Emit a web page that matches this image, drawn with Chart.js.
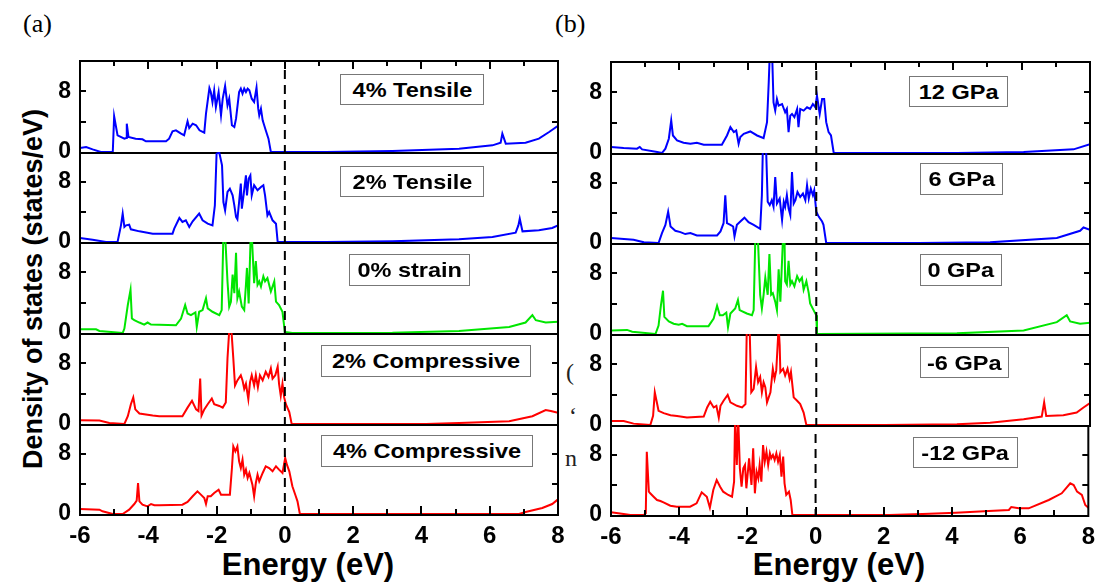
<!DOCTYPE html>
<html><head><meta charset="utf-8">
<script src="https://cdn.jsdelivr.net/npm/chart.js@4.4.0/dist/chart.umd.min.js"></script>
<style>
html,body{margin:0;padding:0;background:#fff;}
body{width:1103px;height:587px;overflow:hidden;position:relative;font-family:"Liberation Sans",Arial,sans-serif;}
canvas.c{position:absolute;left:0;top:0;}
.lab{position:absolute;font-family:"Liberation Serif","Times New Roman",serif;font-size:26px;color:#000;}
.frag{position:absolute;overflow:hidden;font-family:"Liberation Serif","Times New Roman",serif;font-size:24px;color:#222;line-height:24px;}
.box{position:absolute;box-sizing:border-box;border:1.5px solid #777;background:#fff;display:flex;align-items:center;justify-content:center;font-weight:bold;font-size:21px;color:#000;white-space:nowrap;z-index:20;}
.box span{display:inline-block;transform:scaleX(1.12);}
.ytitle{position:absolute;left:33px;top:289px;transform:translate(-50%,-50%) rotate(-90deg);font-weight:bold;font-size:27px;white-space:nowrap;color:#000;}
.xtitle{position:absolute;font-weight:bold;font-size:31px;white-space:nowrap;color:#000;transform:translate(-50%,-50%);}
</style>
</head><body>
<div class="lab" style="left:23px;top:9px;">(a)</div>
<div class="lab" style="left:555px;top:9px;">(b)</div>
<div class="frag" style="left:566px;top:360px;width:12px;height:26px;">(</div>
<div class="frag" style="left:569px;top:404px;width:8px;height:22px;">‘</div>
<div class="frag" style="left:565px;top:446px;width:12px;height:24px;">n</div>
<div class="ytitle">Density of states (states/eV)</div>
<div class="xtitle" style="left:308px;top:565px;">Energy (eV)</div>
<div class="xtitle" style="left:839px;top:565px;">Energy (eV)</div>
<script>
// ---- axis definitions ----
const energyMin = -6, energyMax = 8;
const dosMin = 0, dosMax = 12;
const xTickLabels = [-6, -4, -2, 0, 2, 4, 6, 8];
const yTickLabels = [0, 8];

// ---- panel (a): strain ----
const labelsA = ["4% Tensile", "2% Tensile", "0% strain", "2% Compressive", "4% Compressive"];
const colorsA = ["#0000ff", "#0000ff", "#00e600", "#ff0000", "#ff0000"];
// [energy (eV), DOS (states/eV)]
const a1 = [[-6.0,0.53],[-5.82,0.66],[-5.63,0.35],[-5.39,0],[-5.04,0],[-5.0,4.7],[-4.9,2.2],[-4.7,1.76],[-4.65,1.85],[-4.63,3.74],[-4.58,1.98],[-4.37,1.76],[-4.17,1.67],[-4.07,1.41],[-3.48,1.41],[-3.39,1.76],[-3.29,2.73],[-3.19,2.86],[-3.04,2.42],[-2.95,2.2],[-2.85,4.04],[-2.8,3.16],[-2.7,3.74],[-2.6,3.52],[-2.5,2.86],[-2.36,2.55],[-2.31,5.05],[-2.21,8.44],[-2.17,7.91],[-2.12,6.59],[-2.07,8.13],[-2.02,5.93],[-1.94,7.91],[-1.87,4.84],[-1.82,7.03],[-1.75,8.7],[-1.68,6.15],[-1.63,7.03],[-1.55,3.52],[-1.48,3.3],[-1.43,4.4],[-1.34,7.91],[-1.29,8.35],[-1.24,7.69],[-1.19,8.35],[-1.14,7.91],[-1.09,8.35],[-1.04,8.13],[-0.97,7.03],[-0.9,6.59],[-0.83,8.48],[-0.78,5.71],[-0.75,4.84],[-0.7,5.71],[-0.65,4.18],[-0.56,2.86],[-0.48,1.76],[-0.41,0],[1.2,0],[3.15,0.13],[5.1,0.44],[6.08,0.88],[6.32,1.23],[6.37,2.42],[6.47,1.1],[7.05,1.23],[7.44,1.76],[7.74,2.64],[8.0,3.45]];
const a2 = [[-6.0,0.53],[-5.63,0.31],[-5.24,0],[-4.9,0],[-4.8,2.22],[-4.75,3.78],[-4.7,2.0],[-4.65,2.22],[-4.56,2.31],[-4.51,1.69],[-4.26,1.42],[-3.87,1.11],[-3.29,1.11],[-3.24,1.78],[-3.09,3.2],[-3.0,2.67],[-2.9,2.89],[-2.8,2.0],[-2.7,2.76],[-2.51,3.78],[-2.41,2.89],[-2.26,2.44],[-2.12,2.22],[-2.05,4.89],[-2.0,11.78],[-1.92,11.91],[-1.84,10.22],[-1.8,5.33],[-1.75,4.22],[-1.68,6.67],[-1.61,7.11],[-1.53,6.22],[-1.48,4.89],[-1.43,3.33],[-1.39,3.02],[-1.34,5.33],[-1.29,7.78],[-1.26,4.44],[-1.21,6.22],[-1.14,8.89],[-1.11,6.22],[-1.06,8.44],[-1.01,8.89],[-0.97,6.22],[-0.9,7.56],[-0.8,6.89],[-0.7,7.33],[-0.63,7.56],[-0.58,6.22],[-0.51,3.56],[-0.46,4.0],[-0.36,2.89],[-0.26,2.44],[-0.21,0],[1.2,0],[3.15,0.09],[5.1,0.36],[6.08,0.67],[6.76,1.24],[6.84,2.22],[6.88,3.11],[6.96,1.42],[7.44,1.56],[7.83,1.87],[8.0,2.22]];
const a3 = [[-6.0,0.49],[-5.53,0.49],[-5.43,0.27],[-4.75,0],[-4.7,0.58],[-4.6,3.69],[-4.52,5.69],[-4.48,1.91],[-4.41,1.69],[-4.26,1.38],[-4.12,1.11],[-4.02,1.38],[-3.92,1.11],[-3.19,1.02],[-3.04,1.91],[-2.92,3.69],[-2.85,2.58],[-2.75,2.36],[-2.62,2.71],[-2.58,0.8],[-2.51,2.8],[-2.41,3.02],[-2.31,4.58],[-2.26,3.24],[-2.12,2.8],[-1.92,2.36],[-1.85,3.02],[-1.8,13],[-1.75,13],[-1.68,6.8],[-1.63,3.47],[-1.58,4.13],[-1.53,7.69],[-1.48,5.24],[-1.43,10.58],[-1.39,4.58],[-1.34,5.47],[-1.26,3.47],[-1.19,3.02],[-1.14,6.36],[-1.11,8.58],[-1.06,3.91],[-1.0,13],[-0.97,13],[-0.9,6.58],[-0.85,9.47],[-0.8,6.36],[-0.75,6.8],[-0.7,6.13],[-0.63,7.47],[-0.58,6.8],[-0.51,7.24],[-0.46,6.36],[-0.41,5.47],[-0.31,6.8],[-0.26,4.13],[-0.17,3.69],[-0.07,2.8],[0.0,0.13],[0.22,0],[3.15,0.04],[5.1,0.27],[6.57,0.8],[7.05,1.38],[7.25,2.36],[7.35,1.69],[7.64,1.38],[8.0,1.47]];
const a4 = [[-6.0,0.49],[-5.43,0.45],[-5.14,0.13],[-4.7,0],[-4.6,1.03],[-4.51,2.61],[-4.44,3.51],[-4.38,1.93],[-4.26,1.39],[-4.07,1.26],[-3.87,1.12],[-3.68,1.03],[-3.0,1.03],[-2.85,2.16],[-2.72,3.06],[-2.6,1.93],[-2.53,1.71],[-2.48,5.98],[-2.44,1.12],[-2.36,1.93],[-2.26,2.61],[-2.14,3.37],[-2.07,2.61],[-1.92,2.38],[-1.82,2.16],[-1.73,2.83],[-1.68,8.67],[-1.63,12.3],[-1.56,12.0],[-1.51,8.67],[-1.46,5.08],[-1.39,5.75],[-1.29,6.43],[-1.24,5.75],[-1.19,4.63],[-1.14,5.3],[-1.07,3.28],[-1.02,5.53],[-0.97,6.43],[-0.9,5.08],[-0.85,6.43],[-0.79,4.85],[-0.73,6.43],[-0.65,5.75],[-0.56,6.88],[-0.48,6.2],[-0.41,7.33],[-0.36,5.98],[-0.28,6.43],[-0.21,7.55],[-0.17,5.3],[-0.12,3.73],[-0.07,5.3],[-0.02,3.51],[0.03,2.61],[0.13,1.57],[0.2,0],[4.13,0],[5.1,0.13],[6.57,0.36],[7.25,1.03],[7.64,1.84],[7.79,1.71],[8.0,1.48]];
const a5 = [[-6.0,0.67],[-5.43,0.58],[-5.34,0.36],[-5.04,0],[-4.75,0],[-4.56,0.58],[-4.41,1.33],[-4.34,1.78],[-4.3,4.13],[-4.26,1.69],[-4.17,1.24],[-4.02,1.02],[-3.92,1.33],[-3.82,1.16],[-3.68,1.16],[-3.0,1.24],[-2.85,1.6],[-2.7,2.36],[-2.56,3.02],[-2.46,2.58],[-2.36,2.13],[-2.31,1.33],[-2.26,2.36],[-2.17,2.36],[-2.07,2.8],[-1.94,3.24],[-1.87,2.58],[-1.61,2.58],[-1.55,6.13],[-1.51,9.02],[-1.45,8.36],[-1.39,9.02],[-1.34,7.02],[-1.29,6.13],[-1.24,7.24],[-1.19,5.24],[-1.14,5.91],[-1.09,4.8],[-1.04,5.47],[-0.95,3.91],[-0.9,2.36],[-0.85,4.13],[-0.8,5.24],[-0.75,4.36],[-0.65,5.47],[-0.56,6.36],[-0.46,6.13],[-0.36,5.69],[-0.26,6.36],[-0.17,5.91],[-0.07,5.47],[0.01,7.47],[0.06,6.58],[0.13,5.69],[0.22,3.69],[0.32,2.36],[0.37,1.69],[0.44,0],[6.86,0],[7.05,0.27],[7.54,0.8],[7.83,1.33],[8.0,1.95]];

// ---- panel (b): pressure ----
const labelsB = ["12 GPa", "6 GPa", "0 GPa", "-6 GPa", "-12 GPa"];
const colorsB = ["#0000ff", "#0000ff", "#00e600", "#ff0000", "#ff0000"];
const b1 = [[-6.0,0.79],[-5.63,0.66],[-5.24,0.57],[-5.16,0.79],[-5.09,0.48],[-4.65,0.13],[-4.51,0],[-4.41,0.57],[-4.31,1.88],[-4.24,4.28],[-4.19,2.31],[-4.07,1.66],[-3.88,1.35],[-3.68,1.22],[-3.49,1.35],[-3.29,1.09],[-2.76,1.09],[-2.61,2.31],[-2.51,3.41],[-2.41,2.75],[-2.34,2.97],[-2.27,1.22],[-2.22,2.1],[-2.12,2.53],[-1.93,2.84],[-1.73,2.31],[-1.54,1.97],[-1.44,4.06],[-1.39,9.3],[-1.36,13],[-1.29,13],[-1.25,6.68],[-1.2,5.59],[-1.15,7.12],[-1.1,6.24],[-1.0,6.46],[-0.91,5.37],[-0.86,5.81],[-0.81,2.75],[-0.76,4.93],[-0.71,5.15],[-0.64,4.72],[-0.56,5.81],[-0.52,3.41],[-0.47,5.81],[-0.37,5.59],[-0.27,6.03],[-0.18,5.81],[-0.1,6.46],[-0.03,6.03],[0.02,7.55],[0.1,5.15],[0.17,7.12],[0.23,7.12],[0.29,4.06],[0.36,2.75],[0.43,2.31],[0.51,0],[4.11,0],[6.06,0.13],[7.52,0.48],[8.0,1.15]];
const b2 = [[-6.0,0.66],[-5.34,0.44],[-5.04,0.09],[-4.61,0],[-4.51,1.32],[-4.41,2.42],[-4.33,4.18],[-4.26,2.2],[-4.12,1.63],[-3.97,1.45],[-3.83,1.19],[-3.68,1.32],[-3.49,1.01],[-2.9,1.01],[-2.8,1.54],[-2.71,2.64],[-2.66,6.37],[-2.61,2.64],[-2.51,2.42],[-2.43,2.2],[-2.39,0.88],[-2.32,2.42],[-2.22,2.86],[-2.1,3.38],[-1.98,2.77],[-1.83,2.42],[-1.64,1.89],[-1.59,6.37],[-1.56,13],[-1.47,13],[-1.42,5.49],[-1.36,5.05],[-1.3,5.71],[-1.25,4.84],[-1.2,8.79],[-1.15,5.27],[-1.07,5.93],[-1.0,3.08],[-0.95,5.49],[-0.91,4.84],[-0.86,6.37],[-0.81,4.62],[-0.76,3.74],[-0.71,9.45],[-0.66,5.27],[-0.61,5.71],[-0.55,6.81],[-0.47,6.15],[-0.39,6.59],[-0.32,5.71],[-0.27,7.69],[-0.22,5.93],[-0.16,7.25],[-0.1,6.37],[-0.06,7.03],[0.0,4.18],[0.07,3.52],[0.17,2.86],[0.21,2.42],[0.29,0],[3.0,0],[5.08,0.09],[7.03,0.66],[7.71,1.63],[7.81,2.07],[8.0,1.76]];
const b3 = [[-6.0,0.45],[-5.53,0.54],[-5.38,0.31],[-4.7,0],[-4.61,1.12],[-4.54,3.82],[-4.48,5.71],[-4.44,2.25],[-4.31,1.66],[-4.17,1.35],[-4.02,1.21],[-3.92,1.35],[-3.78,1.03],[-3.15,1.03],[-3.0,2.02],[-2.9,3.73],[-2.82,2.47],[-2.73,2.47],[-2.63,2.83],[-2.58,0.9],[-2.51,2.7],[-2.37,3.37],[-2.29,4.49],[-2.24,3.15],[-2.03,2.7],[-1.88,2.47],[-1.83,3.15],[-1.78,13],[-1.71,13],[-1.64,5.17],[-1.59,3.37],[-1.54,5.17],[-1.49,7.42],[-1.42,5.17],[-1.37,10.56],[-1.32,5.17],[-1.27,5.39],[-1.2,4.27],[-1.15,3.15],[-1.1,8.54],[-1.05,4.27],[-0.97,13],[-0.93,13],[-0.91,6.97],[-0.86,6.52],[-0.81,9.66],[-0.76,6.52],[-0.71,6.97],[-0.64,6.29],[-0.56,7.64],[-0.49,6.97],[-0.42,7.42],[-0.37,5.84],[-0.29,6.97],[-0.22,5.39],[-0.18,4.04],[-0.08,3.15],[0.0,2.47],[0.02,0],[4.11,0.09],[6.06,0.45],[7.03,1.57],[7.32,2.47],[7.42,1.66],[7.71,1.35],[8.0,1.48]];
const b4 = [[-6.0,0.53],[-5.63,0.53],[-5.34,0.18],[-4.85,0],[-4.77,1.2],[-4.72,4.31],[-4.67,3.2],[-4.61,1.87],[-4.46,1.56],[-4.26,1.29],[-4.07,1.2],[-3.78,0.98],[-3.29,1.11],[-3.19,2.31],[-3.1,3.07],[-3.0,2.31],[-2.92,2.53],[-2.85,0.98],[-2.8,2.53],[-2.71,3.2],[-2.59,3.96],[-2.51,2.98],[-2.32,2.53],[-2.17,2.31],[-2.07,2.76],[-2.03,13],[-1.95,13],[-1.9,4.31],[-1.83,4.76],[-1.76,7.64],[-1.7,5.64],[-1.64,6.31],[-1.59,4.31],[-1.54,5.64],[-1.49,4.98],[-1.44,2.98],[-1.34,4.31],[-1.27,7.42],[-1.22,6.09],[-1.17,7.2],[-1.13,10.5],[-1.1,13],[-1.07,10.5],[-1.05,6.98],[-0.97,7.42],[-0.91,6.53],[-0.84,7.42],[-0.78,6.09],[-0.74,6.98],[-0.66,3.64],[-0.56,3.2],[-0.47,2.76],[-0.37,1.64],[-0.29,0],[2.0,0],[4.11,0.09],[5.08,0.31],[6.06,0.76],[6.59,1.11],[6.66,2.98],[6.72,1.2],[7.22,1.29],[7.61,1.64],[7.81,2.31],[8.0,2.9]];
const b5 = [[-6.0,0.36],[-5.63,0.13],[-5.43,0],[-5.04,0],[-4.98,0.22],[-4.95,8.44],[-4.89,3.11],[-4.85,2.89],[-4.75,2.44],[-4.65,2.0],[-4.55,1.87],[-4.46,1.69],[-4.26,1.24],[-4.07,1.11],[-3.68,1.11],[-3.49,1.56],[-3.34,3.02],[-3.19,2.44],[-3.1,0.98],[-3.0,3.33],[-2.9,4.67],[-2.8,3.78],[-2.71,3.11],[-2.56,2.67],[-2.45,2.44],[-2.39,4.44],[-2.36,13],[-2.31,6.67],[-2.27,13],[-2.22,6.22],[-2.17,3.78],[-2.12,6.22],[-2.07,6.67],[-2.03,3.56],[-1.95,7.56],[-1.88,4.0],[-1.83,8.89],[-1.78,2.89],[-1.73,5.78],[-1.68,4.89],[-1.64,6.67],[-1.59,4.44],[-1.54,9.33],[-1.49,7.11],[-1.44,8.44],[-1.39,6.67],[-1.34,8.22],[-1.3,7.56],[-1.25,8.0],[-1.2,7.33],[-1.15,8.22],[-1.1,7.11],[-1.05,8.0],[-1.0,5.11],[-0.95,7.78],[-0.91,4.22],[-0.86,2.67],[-0.78,3.11],[-0.73,2.0],[-0.68,0],[2.16,0],[3.14,0.13],[4.11,0.31],[5.08,0.53],[5.67,0.67],[5.74,1.07],[5.96,0.89],[6.25,0.89],[6.84,2.0],[7.22,2.89],[7.47,4.22],[7.57,4.0],[7.67,3.11],[7.81,2.67],[7.91,1.33],[8.0,0.98]];

const seriesA = [a1, a2, a3, a4, a5];
const seriesB = [b1, b2, b3, b4, b5];

// ---- layout (pixels) ----
const W = 1103, H = 587;
const panelA = {L: 80, R: 558, rows: [61, 152, 242, 333, 424, 514],
  boxes: [[340,74,144,31],[340,166,144,31],[349,254,121,32],[321,345,210,32],[321,435,212,32]]};
const panelB = {L: 611, R: 1090, rows: [62, 153, 243, 334, 425, 515],
  boxes: [[909,76,99,31],[920,163,83,32],[920,254,82,32],[920,347,89,31],[913,437,105,31]]};
const YW = 40, XH = 40;

const framePlugin = {
  id: 'frame',
  afterDatasetsDraw(chart) {
    const o = chart.options.plugins.frame;
    const {ctx, chartArea: {left, right, top, bottom}, scales: {x, y}} = chart;
    ctx.save();
    // dashed Fermi level line
    const x0 = x.getPixelForValue(0);
    ctx.strokeStyle = '#000';
    ctx.lineWidth = 2;
    ctx.setLineDash([9, 6]);
    ctx.beginPath();
    ctx.moveTo(x0, top + 9);
    ctx.lineTo(x0, bottom);
    ctx.stroke();
    ctx.setLineDash([]);
    // frame
    ctx.beginPath();
    ctx.moveTo(left, top - (o.first ? 1 : 0)); ctx.lineTo(left, bottom + 2);
    ctx.moveTo(right, top - (o.first ? 1 : 0)); ctx.lineTo(right, bottom + 2);
    ctx.moveTo(left - 1, bottom + 1); ctx.lineTo(right + 1, bottom + 1);
    if (o.first) { ctx.moveTo(left - 1, top); ctx.lineTo(right + 1, top); }
    // y ticks (inward, both sides)
    [4, 8].forEach(v => {
      const py = Math.round(y.getPixelForValue(v));
      ctx.moveTo(left, py); ctx.lineTo(left + 6, py);
      ctx.moveTo(right - 6, py); ctx.lineTo(right, py);
    });
    // x ticks (inward) on outer edges
    x.ticks.forEach(t => {
      const v = t.value;
      if (v <= energyMin || v >= energyMax) return;
      const px = Math.round(x.getPixelForValue(v));
      const len = (v % 2 === 0) ? 8 : 5;
      if (o.first) { ctx.moveTo(px, top); ctx.lineTo(px, top + len); }
      if (o.last) { ctx.moveTo(px, bottom); ctx.lineTo(px, bottom - len); }
    });
    ctx.stroke();
    ctx.restore();
  }
};

function makeChart(panel, series, colors, labels, i) {
  const cv = document.createElement('canvas');
  cv.className = 'c';
  cv.width = W; cv.height = H;
  cv.style.zIndex = 10 + i;
  document.body.appendChild(cv);
  const top = panel.rows[i], bottom = panel.rows[i + 1];
  const last = i === 4, first = i === 0;
  new Chart(cv.getContext('2d'), {
    type: 'line',
    data: {
      datasets: [{
        label: labels[i],
        data: series[i].map(p => ({x: p[0], y: p[1]})),
        borderColor: colors[i],
        borderWidth: 2,
        pointRadius: 0,
        tension: 0,
        fill: false
      }]
    },
    options: {
      responsive: false,
      animation: false,
      events: [],
      layout: {padding: {left: panel.L - YW, right: W - panel.R, top: top, bottom: H - bottom - (last ? XH : 0)}},
      plugins: {legend: {display: false}, tooltip: {enabled: false}, frame: {first, last}},
      scales: {
        x: {
          type: 'linear', min: energyMin, max: energyMax, display: last,
          grid: {display: false, drawTicks: false}, border: {display: false},
          ticks: {stepSize: 1, autoSkip: false, maxRotation: 0, padding: 8, color: '#000',
            font: {family: '"Liberation Sans", Arial, sans-serif', size: 24, weight: 'bold'},
            callback: v => xTickLabels.includes(v) ? String(v) : ''},
          afterFit: s => { s.height = last ? XH : 0; }
        },
        y: {
          type: 'linear', min: dosMin, max: dosMax,
          grid: {display: false, drawTicks: false}, border: {display: false},
          ticks: {stepSize: 4, padding: 9, color: '#000',
            font: {family: '"Liberation Sans", Arial, sans-serif', size: 23, weight: 'bold'},
            callback: v => yTickLabels.includes(v) ? String(v) : ''},
          afterFit: s => { s.width = YW; }
        }
      }
    },
    plugins: [framePlugin]
  });
  const b = panel.boxes[i];
  const d = document.createElement('div');
  d.className = 'box';
  d.style.left = b[0] + 'px'; d.style.top = b[1] + 'px';
  d.style.width = b[2] + 'px'; d.style.height = b[3] + 'px';
  const sp = document.createElement('span');
  sp.textContent = labels[i];
  d.appendChild(sp);
  document.body.appendChild(d);
}
for (let i = 0; i < 5; i++) makeChart(panelA, seriesA, colorsA, labelsA, i);
for (let i = 0; i < 5; i++) makeChart(panelB, seriesB, colorsB, labelsB, i);
</script>
</body></html>
